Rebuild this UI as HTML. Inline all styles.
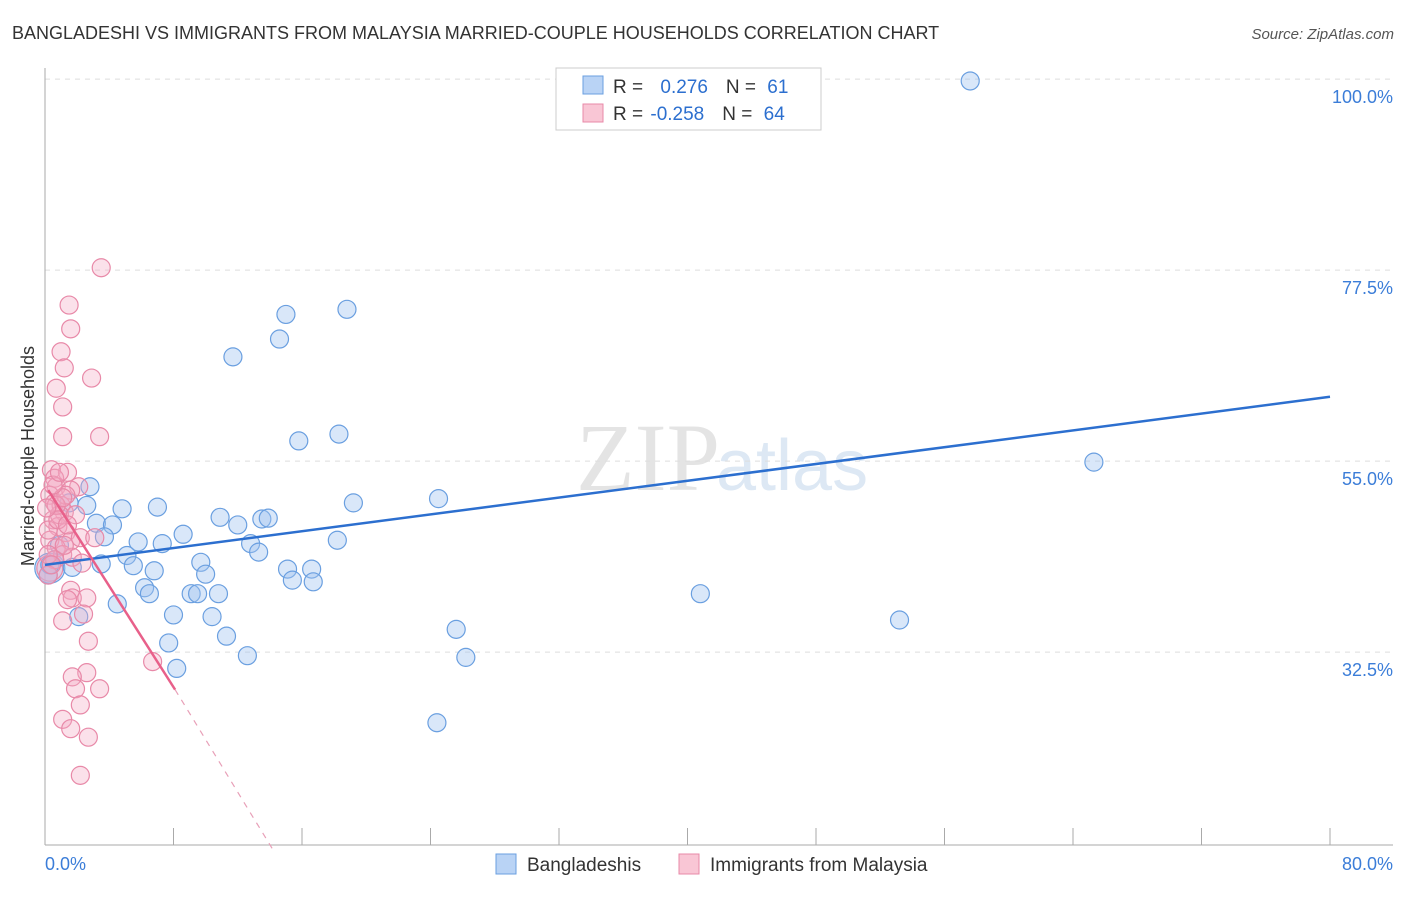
<!DOCTYPE html>
<html><head><meta charset="utf-8"><style>
body{margin:0;background:#fff;font-family:"Liberation Sans",sans-serif}
</style></head><body>
<svg id="c" width="1406" height="892" xmlns="http://www.w3.org/2000/svg">
<text x="12" y="39" font-size="18" fill="#333">BANGLADESHI VS IMMIGRANTS FROM MALAYSIA MARRIED-COUPLE HOUSEHOLDS CORRELATION CHART</text>
<text x="1394" y="39" font-size="15" fill="#555" font-style="italic" text-anchor="end">Source: ZipAtlas.com</text>
<text x="720" y="490" font-size="96" fill="#e4e4e4" text-anchor="end" font-family="Liberation Serif">ZIP</text>
<text x="716" y="490" font-size="72" fill="#dde8f4">atlas</text>
<g id="grid"></g><g id="marks"></g>
<text transform="translate(34,456) rotate(-90)" font-size="18" fill="#333" text-anchor="middle">Married-couple Households</text>
<text x="45" y="870" font-size="18" fill="#3b7dd8">0.0%</text>
<text x="1393" y="870" font-size="18" fill="#3b7dd8" text-anchor="end">80.0%</text>
<g>
<rect x="556" y="68" width="265" height="62" fill="#fff" stroke="#ccc"/>
<rect x="583" y="76" width="20" height="18" fill="#b9d3f5" stroke="#6a9fe0"/>
<rect x="583" y="104" width="20" height="18" fill="#f9c6d5" stroke="#e889a8"/>
<text x="613" y="93" font-size="19" fill="#333">R = <tspan fill="#2c6fcf" dx="12">0.276</tspan><tspan dx="18" fill="#333">N = </tspan><tspan fill="#2c6fcf" dx="6">61</tspan></text>
<text x="613" y="120" font-size="19" fill="#333">R = <tspan fill="#2c6fcf" dx="2">-0.258</tspan><tspan dx="18" fill="#333">N = </tspan><tspan fill="#2c6fcf" dx="6">64</tspan></text>
</g>
<g>
<rect x="496" y="854" width="20" height="20" fill="#b9d3f5" stroke="#6a9fe0"/>
<text x="527" y="871" font-size="19" fill="#333">Bangladeshis</text>
<rect x="679" y="854" width="20" height="20" fill="#f9c6d5" stroke="#e889a8"/>
<text x="710" y="871" font-size="19" fill="#333">Immigrants from Malaysia</text>
</g>
</svg>
<script>
const yTicks=[100,77.5,55,32.5];
const yTickLabels=["100.0%","77.5%","55.0%","32.5%"];
const xTicks=[0,8,16,24,32,40,48,56,64,72,80];
const blueX=[57.6,15.0,18.8,14.6,11.7,15.8,18.3,65.3,2.8,4.8,7.0,19.2,24.5,2.6,1.5,3.2,4.2,10.9,12.0,13.5,13.9,3.7,5.8,7.3,8.6,12.8,13.3,18.2,5.1,5.5,6.8,9.7,10.0,15.1,15.4,16.6,16.7,3.5,1.7,6.2,6.5,9.1,9.5,10.8,4.5,8.0,10.4,2.1,11.3,7.7,8.2,12.6,25.6,26.2,24.4,40.8,53.2,0.3,0.6,0.9,0.2];
const blueY=[101.9,74.4,75.0,71.5,69.4,59.5,60.3,57.0,54.1,51.5,51.7,52.2,52.7,51.9,52.2,49.8,49.6,50.5,49.6,50.3,50.4,48.2,47.6,47.4,48.5,47.4,46.4,47.8,46.0,44.8,44.2,45.2,43.8,44.4,43.1,44.4,42.9,45.0,44.6,42.2,41.5,41.5,41.5,41.5,40.3,39.0,38.8,38.8,36.5,35.7,32.7,34.2,37.3,34.0,26.3,41.5,38.4,44.9,45.5,47.2,43.7];
const pinkX=[3.5,1.5,1.6,1.0,1.2,2.9,0.7,1.1,1.1,3.4,0.4,1.4,0.6,0.7,2.1,1.6,0.3,0.6,1.0,1.2,0.5,0.8,1.3,1.6,0.3,0.7,1.1,2.2,3.1,0.6,0.2,1.7,2.3,1.6,1.7,2.6,1.4,2.4,1.1,2.7,6.7,2.6,1.7,1.9,3.4,2.2,1.1,1.6,2.7,2.2,0.9,1.3,0.2,0.4,0.7,1.9,1.2,0.2,0.8,1.1,1.4,0.5,0.1,0.9];
const pinkY=[79.9,75.5,72.7,70.0,68.1,66.9,65.7,63.5,60.0,60.0,56.1,55.8,55.1,54.1,54.1,53.7,53.1,52.2,51.9,51.1,50.2,49.4,48.7,47.7,47.8,46.9,46.1,48.1,48.1,45.5,43.7,45.8,45.1,41.9,41.0,41.0,40.8,39.1,38.3,35.9,33.5,32.2,31.7,30.3,30.3,28.4,26.7,25.6,24.6,20.1,50.8,53.1,46.1,44.9,51.9,50.8,47.2,49.0,50.2,52.8,49.6,54.3,51.6,55.8];
const blueTrend=[[0,44.9],[80,64.7]];
const pinkTrendSolid=[[0.2,53.7],[8.1,30.2]];
const pinkTrendDash=[[8.1,30.2],[14.3,11.0]];
const NS="http://www.w3.org/2000/svg";
const X=v=>45+v*16.0625;
const Y=v=>946-v*8.489;
function mk(t,a,p){const e=document.createElementNS(NS,t);for(const k in a)e.setAttribute(k,a[k]);p.appendChild(e);return e;}
const g=document.getElementById('grid'),m=document.getElementById('marks');
yTicks.forEach((t,i)=>{
 const l=mk('line',{x1:45,x2:1393,y1:Y(t)-18,y2:Y(t)-18,stroke:'#ddd','stroke-dasharray':'5,5'},g);
 
 
 const tx=mk('text',{x:1393,y:Y(t)+6,'font-size':18,fill:'#3b7dd8','text-anchor':'end'},g);
 tx.textContent=yTickLabels[i];
 
 
});
const ax=mk('line',{x1:45,x2:45,y1:68,y2:845,stroke:'#aaa'},g);


const bx=mk('line',{x1:45,x2:1393,y1:845,y2:845,stroke:'#aaa'},g);


xTicks.forEach(t=>{const l=mk('line',{x1:X(t),x2:X(t),y1:828,y2:845,stroke:'#aaa'},g);
 
 });
function dot(x,y,r,f,s,n){const c=mk('circle',{cx:X(x),cy:Y(y),r:r,fill:f,stroke:s,'stroke-width':1.2},m);
 
 }
dot(0.3,44.5,15,'rgba(160,196,240,0.4)','#6a9fe0','blue-point-large');
dot(0.3,44.5,13,'rgba(244,170,195,0.35)','#e889a8','pink-point-large');
blueX.forEach((x,i)=>dot(x,blueY[i],9,'rgba(160,196,240,0.4)','#6a9fe0','bangladeshi-point'));
pinkX.forEach((x,i)=>dot(x,pinkY[i],9,'rgba(244,170,195,0.35)','#e889a8','malaysia-point'));
function ln(p,s,w,d,n){const l=mk('line',{x1:X(p[0][0]),y1:Y(p[0][1]),x2:X(p[1][0]),y2:Y(p[1][1]),stroke:s,'stroke-width':w},m);
 if(d)l.setAttribute('stroke-dasharray',d);
 
 }
ln(blueTrend,'#2c6fcf',2.5,null,'bangladeshi-trendline');
ln(pinkTrendSolid,'#e8608a',2.5,null,'malaysia-trendline');
ln(pinkTrendDash,'#e8a0b8',1.2,'6,6','malaysia-trendline-extension');
</script>
</body></html>
